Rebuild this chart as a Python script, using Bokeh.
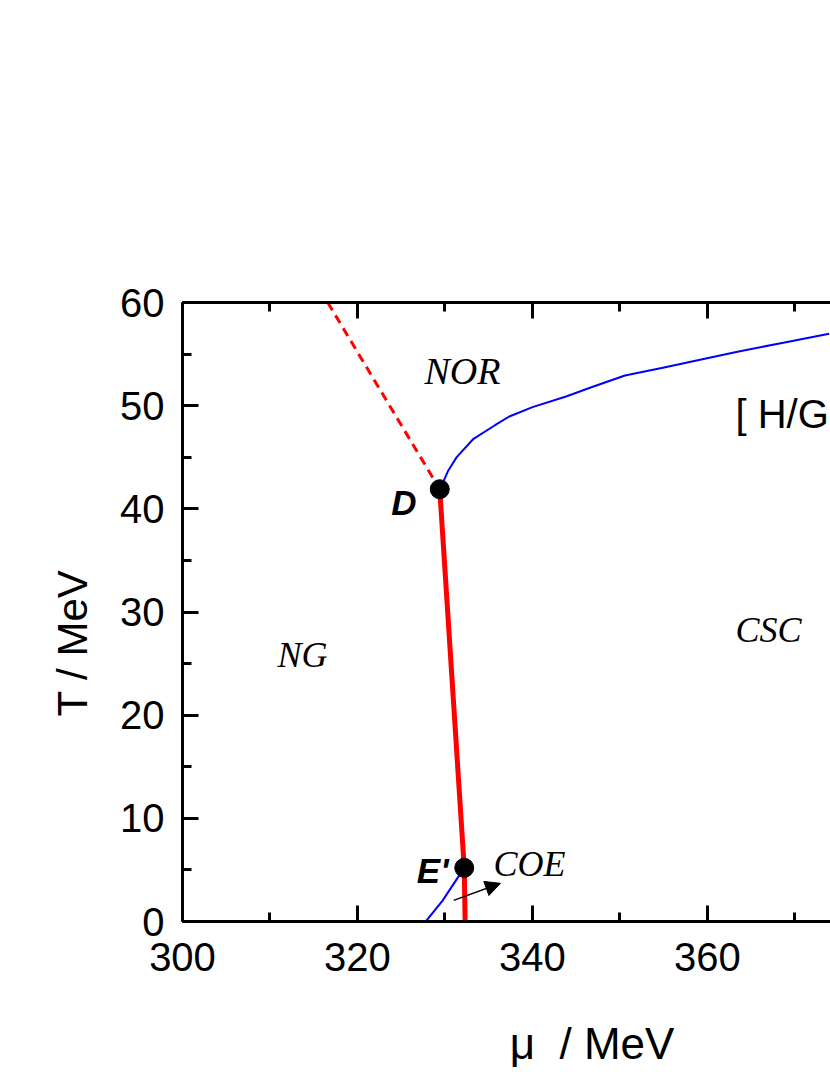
from bokeh.plotting import figure
from bokeh.models import (Range1d, LinearAxis, FixedTicker, Label, Arrow, NormalHead,
                          Title, CustomJSTickFormatter)
from bokeh.embed import file_html
from bokeh.resources import INLINE

# ---- data ----
mu_dash = [316.6, 329.4]
T_dash = [60.0, 41.9]

mu_red = [329.4, 332.2, 332.3]
T_red = [41.9, 5.2, 0.0]

mu_blue_up = [329.4, 329.79, 330.38, 331.34, 333.26, 335.67, 337.35, 340.0, 343.84,
              346.73, 350.57, 354.90, 358.75, 363.57, 368.38, 373.91]
T_blue_up = [41.9, 42.59, 43.72, 45.01, 46.79, 48.08, 48.95, 49.86, 50.89,
             51.79, 52.93, 53.67, 54.38, 55.25, 56.06, 56.97]

mu_blue_low = [327.8, 329.7, 332.2]
T_blue_low = [0.0, 2.0, 5.2]

pts_mu = [329.4, 332.2]
pts_T = [41.9, 5.2]

arrow_start = (331.0, 2.05)
arrow_end = (336.34, 3.70)

x_major = [300, 320, 340, 360, 380]
x_minor = [310, 330, 350, 370]
y_major = [0, 10, 20, 30, 40, 50, 60]
y_minor = [5, 15, 25, 35, 45, 55]

x_title = "\u03bc\u00a0\u00a0/ MeV"
y_title = "T / MeV"

W, H = 830, 1072
p = figure(width=W, height=H, output_backend="svg", toolbar_location=None,
           x_range=Range1d(300, 374.06), y_range=Range1d(0, 60),
           min_border_left=182, min_border_top=302, min_border_bottom=H - 921,
           min_border_right=0, x_axis_location=None, y_axis_location=None)
p.outline_line_color = None
p.grid.visible = False
p.background_fill_color = "white"
p.border_fill_color = "white"

def style_axis(ax):
    ax.axis_line_width = 3
    ax.axis_line_color = "black"
    ax.major_tick_line_width = 3
    ax.minor_tick_line_width = 3
    ax.major_tick_in = 16
    ax.major_tick_out = 0
    ax.minor_tick_in = 9
    ax.minor_tick_out = 0
    ax.major_label_text_font = "Liberation Sans"
    ax.major_label_text_font_size = "40px"
    ax.major_label_text_color = "black"

xt = FixedTicker(ticks=x_major, minor_ticks=x_minor)
yt = FixedTicker(ticks=y_major, minor_ticks=y_minor)

# leading no-break spaces shift the centred axis title to the right, as in the original
bottom = LinearAxis(ticker=xt, axis_label="\u00a0" * 14 + x_title)
style_axis(bottom)
bottom.major_label_standoff = 21
bottom.axis_label_text_font = "Liberation Sans"
bottom.axis_label_text_font_size = "44px"
bottom.axis_label_text_font_style = "normal"
bottom.axis_label_text_color = "black"
bottom.axis_label_standoff = 45
p.add_layout(bottom, "below")

top = LinearAxis(ticker=xt, formatter=CustomJSTickFormatter(code="return ''"))
style_axis(top)
top.major_label_standoff = 0
p.add_layout(top, "above")

left = LinearAxis(ticker=yt)
style_axis(left)
left.major_label_standoff = 18
p.add_layout(left, "left")

p.add_layout(Title(text=y_title, text_font="Liberation Sans", text_font_size="42px",
                   text_font_style="normal", text_color="black", align="left", offset=205,
                   standoff=44), "left")

# lines
p.line(mu_dash, T_dash, line_color="red", line_width=3, line_dash="9 6")
p.line(mu_blue_up, T_blue_up, line_color="blue", line_width=2)
p.line(mu_blue_low, T_blue_low, line_color="blue", line_width=2)
p.line(mu_red, T_red, line_color="red", line_width=5)
p.scatter(pts_mu, pts_T, size=19, fill_color="black", line_color="black")

p.add_layout(Arrow(end=NormalHead(size=15, fill_color="black", line_color="black", line_width=1),
                   x_start=arrow_start[0], y_start=arrow_start[1],
                   x_end=arrow_end[0], y_end=arrow_end[1],
                   line_color="black", line_width=1.5))

def lab(x, y, text, font, size, style="normal", align="left", baseline="alphabetic"):
    p.add_layout(Label(x=x, y=y, text=text, text_font=font, text_font_size=size,
                       text_font_style=style, text_align=align, text_baseline=baseline,
                       text_color="black"))

serif = "Liberation Serif"
sans = "Liberation Sans"
lab(327.66, 53.4, "NOR", serif, "38px", "italic")
lab(363.2, 49.15, "[ H/G", sans, "40px")
lab(310.86, 25.8, "NG", serif, "36px", "italic")
lab(363.2, 28.3, "CSC", serif, "36px", "italic")
lab(335.54, 5.6, "COE", serif, "36px", "italic")
lab(326.74, 40.6, "D", sans, "35px", "bold italic", align="right")
lab(330.4, 4.95, "E'", sans, "35px", "bold italic", align="right")

open("out.html", "w").write(file_html(p, INLINE))
